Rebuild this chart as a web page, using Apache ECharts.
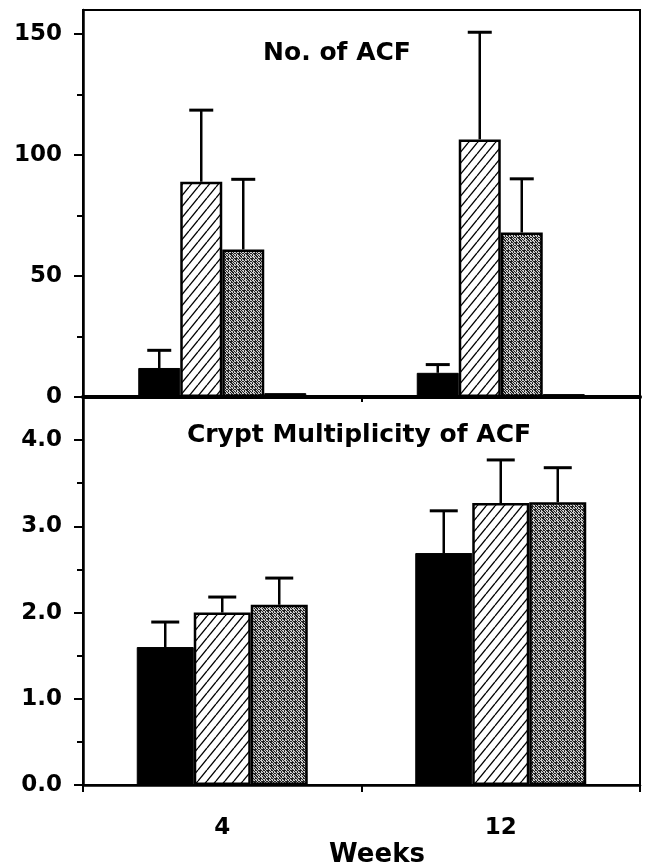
<!DOCTYPE html>
<html><head><meta charset="utf-8">
<script src="https://cdn.jsdelivr.net/npm/echarts@6/dist/echarts.min.js"></script>
<style>html,body{margin:0;padding:0;background:#fff}#c{width:645px;height:868px}</style>
</head><body><div id="c"></div>
<script>
// ---------- data ----------
const weeks = ['4', '12'];
const acfTicks = [0, 50, 100, 150];
const acfMinorTicks = [25, 75, 125];
const multTicks = [0, 1, 2, 3, 4];
const multMinorTicks = [0.5, 1.5, 2.5, 3.5];

const acfBlack = [12, 10];
const acfBlackErr = [7.3, 3.4];
const acfHatch = [89, 106.5];
const acfHatchErr = [29.6, 44.3];
const acfGray = [61, 68];
const acfGrayErr = [29, 22.2];
const acfFourth = [1.6, 1.2];

const multBlack = [1.6, 2.69];
const multBlackErr = [0.29, 0.49];
const multHatch = [2.0, 3.27];
const multHatchErr = [0.18, 0.5];
const multGray = [2.09, 3.28];
const multGrayErr = [0.31, 0.4];

// ---------- styles ----------
const FONT = 'DejaVu Sans';
const TOP_BAR_W = 42, BOT_BAR_W = 57;

function hatchPattern() {
  const w = 9, h = 11;
  const c = document.createElement('canvas'); c.width = w; c.height = h;
  const g = c.getContext('2d');
  g.fillStyle = '#fff'; g.fillRect(0, 0, w, h);
  g.strokeStyle = '#000'; g.lineWidth = 1.3;
  [[0, h, w, 0], [-w, h, 0, 0], [w, h, 2 * w, 0]].forEach(s => {
    g.beginPath(); g.moveTo(s[0], s[1]); g.lineTo(s[2], s[3]); g.stroke();
  });
  return c;
}
function stipplePattern() {
  const n = 8;
  const c = document.createElement('canvas'); c.width = n; c.height = n;
  const g = c.getContext('2d');
  const img = g.createImageData(n, n);
  for (let y = 0; y < n; y++) for (let x = 0; x < n; x++) {
    const dark = ((x * 3 + y * 5 + (x * y) % 3) % 8) < 4;
    const v = dark ? 35 : 205;
    const k = (y * n + x) * 4;
    img.data[k] = v; img.data[k + 1] = v; img.data[k + 2] = v; img.data[k + 3] = 255;
  }
  g.putImageData(img, 0, 0);
  return c;
}
const HATCH = { image: hatchPattern(), repeat: 'repeat' };
const STIPPLE = { image: stipplePattern(), repeat: 'repeat' };

function errData(vals, errs, slot) {
  return vals.map((v, i) => [i, v, v + errs[i], slot]);
}
function errRender(barW, nSlots, capW) {
  return function (params, api) {
    const cat = api.value(0), v = api.value(1), t = api.value(2), slot = api.value(3);
    const p0 = api.coord([cat, v]);
    const p1 = api.coord([cat, t]);
    const x = p0[0] + (slot - (nSlots - 1) / 2) * barW;
    return {
      type: 'group', children: [
        { type: 'line', shape: { x1: x, y1: p0[1], x2: x, y2: p1[1] }, style: { stroke: '#000', lineWidth: 2.5 } },
        { type: 'line', shape: { x1: x - capW / 2, y1: p1[1], x2: x + capW / 2, y2: p1[1] }, style: { stroke: '#000', lineWidth: 3 } }
      ]
    };
  };
}

const labelStyle = { color: '#000', fontFamily: FONT, fontWeight: 'bold', fontSize: 23 };

function majorY(gridIndex, max, ticks, fmt) {
  return {
    type: 'value', gridIndex, min: 0, max, position: 'left',
    axisLine: { show: true, lineStyle: { color: '#000', width: 2.5 } },
    axisTick: { show: true, customValues: ticks, length: 9, lineStyle: { color: '#000', width: 2 } },
    axisLabel: Object.assign({ customValues: ticks, margin: 21, formatter: fmt }, labelStyle),
    splitLine: { show: false }
  };
}
function minorY(gridIndex, max, ticks) {
  return {
    type: 'value', gridIndex, min: 0, max, position: 'left', offset: 0,
    axisLine: { show: false },
    axisTick: { show: true, customValues: ticks, length: 6, lineStyle: { color: '#000', width: 2 } },
    axisLabel: { show: false },
    splitLine: { show: false }
  };
}

const chart = echarts.init(document.getElementById('c'), null, { renderer: 'canvas' });
chart.setOption({
  animation: false,
  backgroundColor: '#fff',
  grid: [
    { left: 83, right: 5, top: 10, height: 387, show: true, borderColor: '#000', borderWidth: 2, backgroundColor: 'transparent' },
    { left: 83, right: 5, top: 397, height: 388, show: true, borderColor: '#000', borderWidth: 2, backgroundColor: 'transparent' }
  ],
  xAxis: [
    {
      type: 'category', gridIndex: 0, data: weeks,
      axisLine: { lineStyle: { color: '#000', width: 4 } },
      axisTick: { show: true, length: 5, lineStyle: { color: '#000', width: 2 } },
      axisLabel: { show: false }
    },
    {
      type: 'category', gridIndex: 1, data: weeks,
      axisLine: { lineStyle: { color: '#000', width: 2.5 } },
      axisTick: { show: true, length: 7, lineStyle: { color: '#000', width: 2 } },
      axisLabel: Object.assign({ margin: 32 }, labelStyle)
    }
  ],
  yAxis: [
    majorY(0, 160, acfTicks, v => String(v)),
    minorY(0, 160, acfMinorTicks),
    majorY(1, 4.5, multTicks, v => Number(v).toFixed(1)),
    minorY(1, 4.5, multMinorTicks)
  ],
  series: [
    { type: 'bar', xAxisIndex: 0, yAxisIndex: 0, data: acfBlack, barWidth: TOP_BAR_W, barGap: '0%',
      itemStyle: { color: '#000', borderColor: '#000', borderWidth: 1 } },
    { type: 'bar', xAxisIndex: 0, yAxisIndex: 0, data: acfHatch, barWidth: TOP_BAR_W, barGap: '0%',
      itemStyle: { color: HATCH, borderColor: '#000', borderWidth: 2.5 } },
    { type: 'bar', xAxisIndex: 0, yAxisIndex: 0, data: acfGray, barWidth: TOP_BAR_W, barGap: '0%',
      itemStyle: { color: STIPPLE, borderColor: '#000', borderWidth: 2.5 } },
    { type: 'bar', xAxisIndex: 0, yAxisIndex: 0, data: acfFourth, barWidth: TOP_BAR_W, barGap: '0%',
      itemStyle: { color: '#000', borderColor: '#000', borderWidth: 1 } },
    { type: 'custom', xAxisIndex: 0, yAxisIndex: 0, renderItem: errRender(TOP_BAR_W, 4, 24), encode: { x: 0, y: [1, 2] }, data: errData(acfBlack, acfBlackErr, 0), z: 3 },
    { type: 'custom', xAxisIndex: 0, yAxisIndex: 0, renderItem: errRender(TOP_BAR_W, 4, 24), encode: { x: 0, y: [1, 2] }, data: errData(acfHatch, acfHatchErr, 1), z: 3 },
    { type: 'custom', xAxisIndex: 0, yAxisIndex: 0, renderItem: errRender(TOP_BAR_W, 4, 24), encode: { x: 0, y: [1, 2] }, data: errData(acfGray, acfGrayErr, 2), z: 3 },

    { type: 'bar', xAxisIndex: 1, yAxisIndex: 2, data: multBlack, barWidth: BOT_BAR_W, barGap: '0%',
      itemStyle: { color: '#000', borderColor: '#000', borderWidth: 1 } },
    { type: 'bar', xAxisIndex: 1, yAxisIndex: 2, data: multHatch, barWidth: BOT_BAR_W, barGap: '0%',
      itemStyle: { color: HATCH, borderColor: '#000', borderWidth: 2.5 } },
    { type: 'bar', xAxisIndex: 1, yAxisIndex: 2, data: multGray, barWidth: BOT_BAR_W, barGap: '0%',
      itemStyle: { color: STIPPLE, borderColor: '#000', borderWidth: 2.5 } },
    { type: 'custom', xAxisIndex: 1, yAxisIndex: 2, renderItem: errRender(BOT_BAR_W, 3, 28), encode: { x: 0, y: [1, 2] }, data: errData(multBlack, multBlackErr, 0), z: 3 },
    { type: 'custom', xAxisIndex: 1, yAxisIndex: 2, renderItem: errRender(BOT_BAR_W, 3, 28), encode: { x: 0, y: [1, 2] }, data: errData(multHatch, multHatchErr, 1), z: 3 },
    { type: 'custom', xAxisIndex: 1, yAxisIndex: 2, renderItem: errRender(BOT_BAR_W, 3, 28), encode: { x: 0, y: [1, 2] }, data: errData(multGray, multGrayErr, 2), z: 3 }
  ],
  graphic: [
    { type: 'text', x: 337, y: 53, style: { text: 'No. of ACF', fill: '#000', font: 'bold 25px "DejaVu Sans"', textAlign: 'center', textVerticalAlign: 'middle' } },
    { type: 'text', x: 359, y: 435, style: { text: 'Crypt Multiplicity of ACF', fill: '#000', font: 'bold 25px "DejaVu Sans"', textAlign: 'center', textVerticalAlign: 'middle' } },
    { type: 'text', x: 377, y: 855, style: { text: 'Weeks', fill: '#000', font: 'bold 26px "DejaVu Sans"', textAlign: 'center', textVerticalAlign: 'middle' } }
  ]
});
</script>
</body></html>
